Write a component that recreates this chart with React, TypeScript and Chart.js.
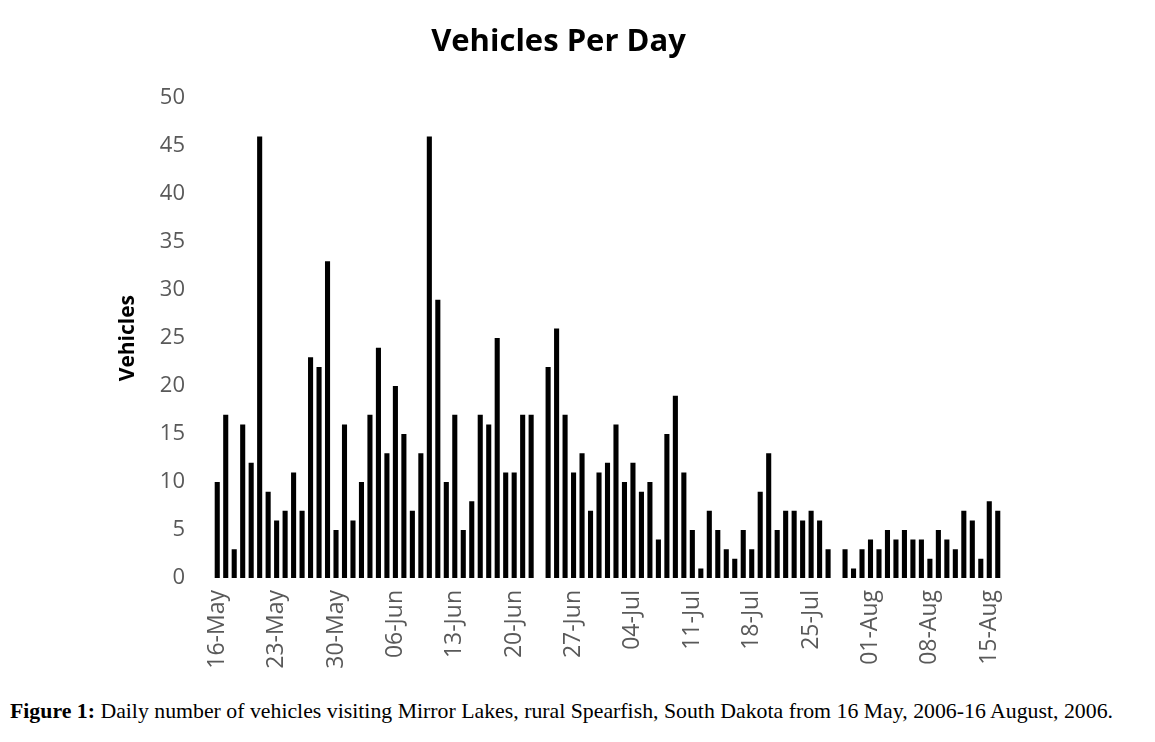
import React, { useEffect, useRef } from "react";
import { Chart, registerables } from "chart.js";

Chart.register(...registerables);

const mayDays = ["16-May","17-May","18-May","19-May","20-May","21-May","22-May","23-May","24-May","25-May","26-May","27-May","28-May","29-May","30-May","31-May"];
const junDays = ["01-Jun","02-Jun","03-Jun","04-Jun","05-Jun","06-Jun","07-Jun","08-Jun","09-Jun","10-Jun","11-Jun","12-Jun","13-Jun","14-Jun","15-Jun","16-Jun","17-Jun","18-Jun","19-Jun","20-Jun","21-Jun","22-Jun","23-Jun","24-Jun","25-Jun","26-Jun","27-Jun","28-Jun","29-Jun","30-Jun"];
const julDays = ["01-Jul","02-Jul","03-Jul","04-Jul","05-Jul","06-Jul","07-Jul","08-Jul","09-Jul","10-Jul","11-Jul","12-Jul","13-Jul","14-Jul","15-Jul","16-Jul","17-Jul","18-Jul","19-Jul","20-Jul","21-Jul","22-Jul","23-Jul","24-Jul","25-Jul","26-Jul","27-Jul","28-Jul","29-Jul","30-Jul","31-Jul"];
const augDays = ["01-Aug","02-Aug","03-Aug","04-Aug","05-Aug","06-Aug","07-Aug","08-Aug","09-Aug","10-Aug","11-Aug","12-Aug","13-Aug","14-Aug","15-Aug","16-Aug"];
const categories = [...mayDays, ...junDays, ...julDays, ...augDays];

const tickLabels = ["16-May","23-May","30-May","06-Jun","13-Jun","20-Jun","27-Jun","04-Jul","11-Jul","18-Jul","25-Jul","01-Aug","08-Aug","15-Aug"];

const vehicles = [
  10, 17, 3, 16, 12, 46, 9, 6, 7, 11, 7, 23, 22, 33, 5, 16,
  6, 10, 17, 24, 13, 20, 15, 7, 13, 46, 29, 10, 17, 5, 8, 17, 16, 25, 11, 11, 17, 17, 0, 22, 26, 17, 11, 13, 7, 11,
  12, 16, 10, 12, 9, 10, 4, 15, 19, 11, 5, 1, 7, 5, 3, 2, 5, 3, 9, 13, 5, 7, 7, 6, 7, 6, 3, 0, 3, 1, 3,
  4, 3, 5, 4, 5, 4, 4, 2, 5, 4, 3, 7, 6, 2, 8, 7,
];

const yTicks = [0, 5, 10, 15, 20, 25, 30, 35, 40, 45, 50];

export default function App() {
  const canvasRef = useRef<HTMLCanvasElement | null>(null);

  useEffect(() => {
    if (!canvasRef.current) return;
    const chart = new Chart(canvasRef.current, {
      type: "bar",
      data: {
        labels: categories,
        datasets: [
          {
            label: "Vehicles",
            data: vehicles,
            backgroundColor: "#000000",
            borderWidth: 0,
            barPercentage: 0.6,
            categoryPercentage: 1.0,
          },
        ],
      },
      options: {
        animation: false,
        responsive: false,
        maintainAspectRatio: false,
        layout: { padding: { left: 107, right: 145, top: 0, bottom: 0 } },
        plugins: {
          legend: { display: false },
          tooltip: { enabled: false },
          title: {
            display: true,
            text: "Vehicles Per Day",
            color: "#000000",
            font: { family: "'Open Sans', sans-serif", size: 31, weight: "bold" },
            padding: { top: 16, bottom: 37 },
          },
        },
        scales: {
          x: {
            offset: true,
            grid: { display: false, drawTicks: false },
            border: { display: false },
            ticks: {
              autoSkip: false,
              minRotation: 90,
              maxRotation: 90,
              padding: 12,
              color: "#595959",
              font: { family: "'Open Sans', sans-serif", size: 23 },
              callback: (_v: any, i: number) => {
                const lab = categories[i];
                return tickLabels.includes(lab) ? lab : "";
              },
            },
            afterFit: (scale: any) => {
              scale.height = 112;
            },
          },
          y: {
            min: 0,
            max: 50,
            grid: { display: false, drawTicks: false },
            border: { display: false },
            afterBuildTicks: (scale: any) => {
              scale.ticks = yTicks.map((v) => ({ value: v }));
            },
            ticks: {
              padding: 28,
              color: "#595959",
              font: { family: "'Open Sans', sans-serif", size: 22 },
            },
            title: {
              display: true,
              text: "Vehicles",
              color: "#000000",
              padding: 0,
              font: { family: "'Open Sans', sans-serif", size: 21, weight: "bold" },
            },
            afterFit: (scale: any) => {
              scale.width = 98;
            },
          },
        },
      },
    });
    return () => chart.destroy();
  }, []);

  return (
    <div style={{ background: "#ffffff" }}>
      <canvas ref={canvasRef} width={1139} height={682} style={{ display: "block", width: 1139, height: 682 }} />
      <div
        style={{
          marginTop: 9,
          paddingLeft: 2,
          fontFamily: "'Liberation Serif', 'Times New Roman', serif",
          fontSize: 21.8,
          lineHeight: "24px",
          color: "#000000",
          whiteSpace: "nowrap",
        }}
      >
        <b>Figure 1:</b> Daily number of vehicles visiting Mirror Lakes, rural Spearfish, South Dakota from 16 May, 2006-16 August, 2006.
      </div>
    </div>
  );
}
